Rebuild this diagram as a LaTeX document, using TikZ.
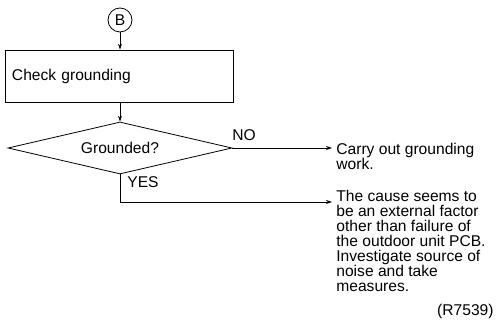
\documentclass[tikz,border=0pt]{standalone}
\usepackage{fontspec}
\setmainfont{Liberation Sans}
\usetikzlibrary{shapes.geometric,arrows.meta}
\begin{document}
\begin{tikzpicture}[x=1pt,y=-1pt,
  line width=0.8pt,
  every node/.style={font=\fontsize{15.6}{14.9}\selectfont},
  flow/.style={-{Stealth[length=6pt,width=4pt]}},
  connector/.style={draw,circle,minimum size=24pt,inner sep=0pt},
  process/.style={draw,rectangle,minimum height=52pt,text width=214pt,align=left,inner xsep=7pt,inner ysep=0pt},
  decision/.style={draw,diamond,aspect=4.3,minimum width=224pt,minimum height=52pt,inner sep=0pt},
  note/.style={inner sep=0pt,anchor=base west}]
\useasboundingbox (0,0) rectangle (499,320);

\node[connector] (b) at (120,20) {B};
\node[process] (check) at (119,76) {Check grounding};
\node[decision] (gnd) at (120,148) {Grounded?};

% multi-line notes: \vtop keeps the first baseline as the node's base
\node[note] (work) at (336,155) {\vtop{\hbox{Carry out grounding}\hbox{work.}}};
\node[note] (cause) at (336,202) {\vtop{\hbox{The cause seems to}\hbox{be an external factor}\hbox{other than failure of}\hbox{the outdoor unit PCB.}\hbox{Investigate source of}\hbox{noise and take}\hbox{measures.}}};
\node[inner sep=0pt,anchor=base east] (ref) at (494,316) {(R7539)};

\coordinate (noend) at (332,148);
\coordinate (yesend) at (332,202);

\draw[flow] (b.south) -- (b.south |- check.north);
\draw[flow] (gnd.north |- check.south) -- (gnd.north);
\draw[flow] (gnd.east) -- (noend);
\draw[flow] (gnd.south) |- (yesend);

\node[inner sep=0pt,anchor=base west] (no) at (232,141) {NO};
\node[inner sep=0pt,anchor=base west] (yes) at (127,188) {YES};
\end{tikzpicture}
\end{document}
